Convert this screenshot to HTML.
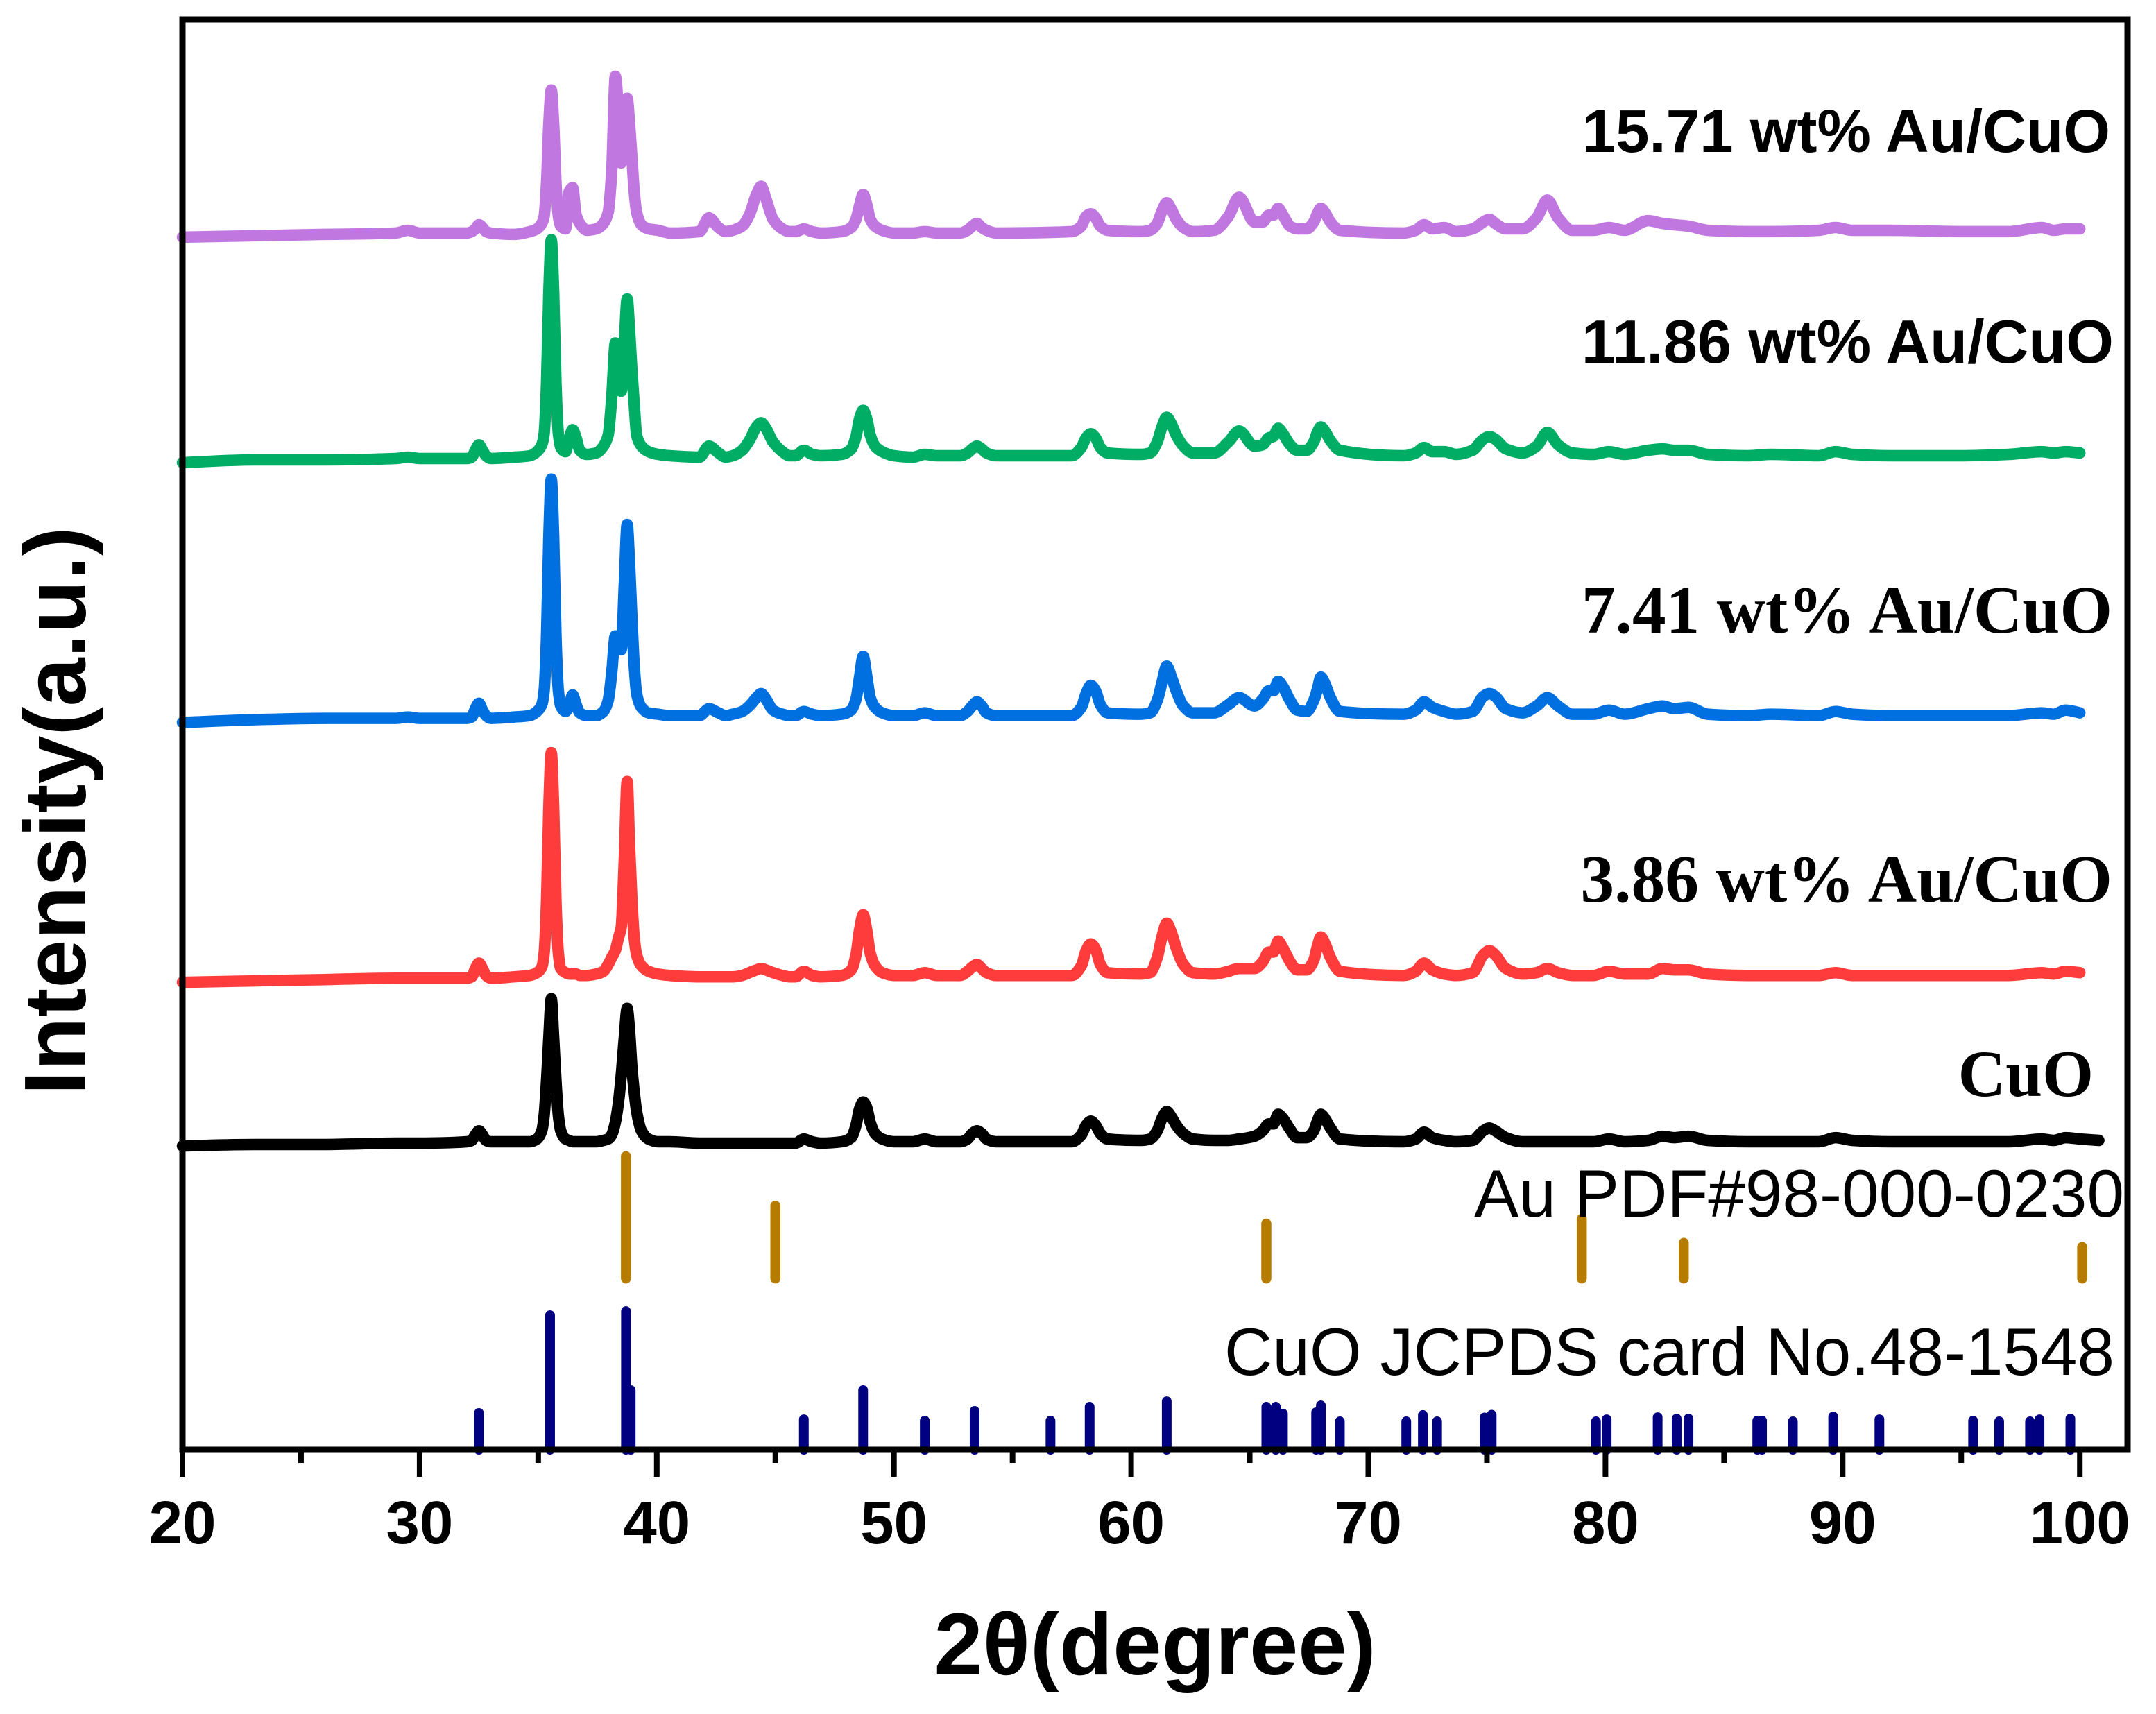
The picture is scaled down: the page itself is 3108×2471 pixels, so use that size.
<!DOCTYPE html>
<html lang="en">
<head>
<meta charset="utf-8">
<title>XRD patterns of Au/CuO</title>
<style>
html,body{margin:0;padding:0;background:#fff;}
svg{display:block;}
.sans{font-family:"Liberation Sans",sans-serif;}
.serif{font-family:"Liberation Serif",serif;}
</style>
</head>
<body>
<svg id="chart" xmlns="http://www.w3.org/2000/svg" width="3108" height="2471" viewBox="0 0 3108 2471">
  <rect x="0" y="0" width="3108" height="2471" fill="#ffffff"/>
  <g id="sticks"></g>
  <g id="curves"></g>
  <g id="axes"></g>

  <text class="sans" x="3042" y="219" text-anchor="end" font-size="87.1" font-weight="700">15.71 wt% Au/CuO</text>
  <text class="sans" x="3047" y="523" text-anchor="end" font-size="88.3" font-weight="700">11.86 wt% Au/CuO</text>
  <text class="serif" x="3045" y="912" text-anchor="end" font-size="97.3" font-weight="700">7.41 wt% Au/CuO</text>
  <text class="serif" x="3045" y="1300" text-anchor="end" font-size="97.5" font-weight="700">3.86 wt% Au/CuO</text>
  <text class="serif" x="3018" y="1580" text-anchor="end" font-size="95" font-weight="700">CuO</text>
  <text class="sans" x="3062" y="1754" text-anchor="end" font-size="96.3">Au PDF#98-000-0230</text>
  <text class="sans" x="3048" y="1982" text-anchor="end" font-size="96.2">CuO JCPDS card No.48-1548</text>

  <text class="sans" x="1665" y="2414" text-anchor="middle" font-size="126.4" font-weight="700">2θ(degree)</text>
  <text class="sans" transform="translate(123 1169) rotate(-90)" x="0" y="0" text-anchor="middle" font-size="126" font-weight="700">Intensity(a.u.)</text>
</svg>

<script>
// Shared 2-theta sampling (degrees)
const twoTheta = [
  20,23,26,29,29.5,30,32,32.2,32.35,32.5,32.65,32.8,33,34,
  34.65,34.95,35.15,35.25,35.35,35.45,35.55,35.65,35.75,35.85,35.95,36.15,36.3,36.45,36.6,36.75,37.05,
  37.45,37.75,37.95,38.1,38.25,38.38,38.5,38.63,38.75,38.85,38.95,39.05,39.15,39.35,39.65,40.05,40.55,
  41.8,42.2,42.6,42.9,43.2,43.6,43.9,44.2,44.4,44.6,44.9,45.3,45.6,
  45.85,46.2,46.55,46.9,47.8,48.2,48.4,48.55,48.7,48.85,49,49.2,49.5,50,
  50.8,51.3,51.8,52.8,53.1,53.3,53.5,53.7,53.9,54.3,
  57.5,57.9,58.1,58.3,58.5,58.7,59,60.4,
  60.8,61.1,61.3,61.5,61.7,61.9,62.2,62.6,
  63.5,64.1,64.55,65.2,65.55,65.8,66,66.2,66.4,66.7,67,67.4,67.7,67.85,68,68.2,68.4,68.8,
  71.5,72,72.35,72.7,73.2,73.7,74.4,74.85,75.1,75.35,75.8,76.5,77.1,77.55,78,78.6,
  79.5,80.15,80.8,81.8,82.4,82.9,83.5,84.3,86,87,89,89.7,90.4,92,95,97,98.4,98.9,99.4,100,100.8
];

// Offset-stacked intensity (a.u.)
const intensity1571 = [
  882,883,884,885,887,885,885,886,888,891,889,886,885,884,
  886,888,892,897,921,965,989,965,921,897,890,888,915,918,898,892,887,
  888,892,900,930,999,975,936,960,983,965,940,915,900,891,888,887,885,
  886,896,889,886,887,890,898,913,919,910,895,888,886,
  886,888,886,885,886,889,895,905,913,906,895,890,887,885,
  885,886,885,885,887,890,892,889,887,885,
  886,890,897,899,896,890,887,886,
  887,892,901,907,902,895,889,886,
  887,897,911,893,893,898,898,903,898,890,888,888,893,899,903,899,893,887,
  885,887,891,888,889,886,888,893,895,892,888,888,896,909,896,887,
  887,889,887,894,892,891,890,887,886,886,887,889,887,887,886,886,889,887,888,888
];
const intensity1186 = [
  718,720,720,721,722,721,721,722,727,731,727,723,721,722,
  723,726,731,739,775,843,880,843,775,739,729,726,735,742,736,727,724,
  725,730,738,765,805,795,770,805,837,815,785,760,738,730,726,724,723,
  722,730,725,722,723,727,734,744,747,743,733,726,723,
  723,727,724,723,724,728,737,750,756,750,738,730,726,723,
  722,724,723,723,725,728,730,728,725,723,
  723,729,736,739,736,729,725,724,
  725,733,744,751,746,738,730,725,
  725,733,741,730,731,736,737,743,739,731,727,727,733,740,744,740,734,727,
  723,725,729,726,726,724,727,735,737,735,728,725,730,740,731,725,
  724,726,724,727,728,727,727,724,723,724,723,726,724,723,723,724,726,725,726,725
];
const intensity741 = [
  529,531,532,532,533,532,532,533,539,543,538,534,532,533,
  534,537,542,552,591,665,706,665,591,552,541,537,541,549,542,536,534,
  534,537,545,565,592,590,582,630,673,645,605,570,550,540,536,535,534,
  534,539,536,534,535,537,541,547,550,546,538,535,534,
  534,537,535,534,535,538,546,562,577,563,547,540,536,534,
  534,536,534,534,537,541,544,541,536,534,
  534,540,550,556,552,542,536,535,
  536,545,558,570,562,552,541,536,
  536,542,547,541,546,552,552,559,555,545,538,537,545,553,562,556,547,537,
  535,538,544,540,537,535,537,548,550,548,539,536,541,547,541,535,
  535,538,535,539,541,539,540,535,534,535,534,537,535,534,534,534,536,535,538,536
];
const intensity386 = [
  340,341,342,343,343,343,343,344,350,354,350,345,343,344,
  345,347,351,361,398,468,507,468,398,361,350,347,346,346,346,345,345,
  346,348,353,358,363,372,380,430,486,440,400,372,360,352,348,346,345,
  344,344,344,344,344,345,347,349,350,349,347,345,344,
  344,348,345,344,345,349,360,378,389,378,361,352,347,345,
  345,347,345,345,348,351,353,350,347,345,
  345,352,363,368,364,353,347,346,
  347,358,373,383,376,365,353,347,
  346,348,350,350,355,362,362,370,365,355,349,349,356,366,373,367,358,348,
  345,348,354,349,346,345,347,360,363,360,350,346,347,350,347,345,
  345,348,346,346,350,349,349,346,345,345,345,347,345,345,345,345,347,346,348,347
];
const intensityCuO = [
  221,222,222,223,223,223,224,225,229,232,229,225,224,224,
  224,226,232,243,268,300,328,300,268,243,232,226,225,224,224,224,224,
  224,225,226,229,238,252,272,300,321,305,278,260,246,232,226,224,224,
  223,223,223,223,223,223,223,223,223,223,223,223,223,
  223,226,224,223,224,227,236,248,253,249,238,230,226,224,
  224,226,224,224,226,230,232,230,226,224,
  224,229,236,239,236,230,226,225,
  226,232,241,246,242,236,230,226,
  225,225,226,228,232,237,237,244,241,233,227,227,232,239,244,240,234,226,
  224,226,231,227,225,224,225,232,234,232,227,224,224,224,224,224,
  224,226,224,225,228,227,228,225,224,224,224,227,225,224,224,224,226,225,227,226,225
];

// Reference stick patterns
const auPositions = [38.7,45,65.7,79,83.3,100.1];
const auTops = [217,181,168,171.5,154,151];
const auBase = 121;
const cuoPositions = [32.5,35.5,38.7,38.9,46.2,48.7,51.3,53.4,56.6,58.25,61.5,65.7,66.1,66.4,67.8,68,68.8,71.6,72.3,72.9,74.9,75.2,79.6,80.05,82.2,83,83.5,86.4,86.6,87.9,89.6,91.55,95.5,96.6,97.9,98.3,99.6];
const cuoHeights = [30.3,101.4,104.4,46.9,25.7,46.9,24.7,31.8,24.7,34.8,38.8,34.8,34.8,29.8,30.8,35.8,24.2,24.2,28.8,24.2,27,29,24.2,25.7,27.2,26.2,26.2,24.7,24.7,24.2,27.7,25.7,24.7,24.2,24.2,25.7,26.2];

// Axis ticks
const majorTicks = [20,30,40,50,60,70,80,90,100];
const minorTicks = [25,35,45,55,65,75,85,95];

const NS = 'http://www.w3.org/2000/svg';
function xScale(t){ return 263 + (t - 20) * 34.19; }
function yScale(v){ return 2090 - v * 1.982; }
function mk(tag, attrs, parent){
  const el = document.createElementNS(NS, tag);
  for (const k in attrs) el.setAttribute(k, attrs[k]);
  parent.appendChild(el);
  return el;
}

// Monotone cubic path through the sampled points
function monotonePath(xs, ys){
  const n = xs.length;
  const d = [];
  for (let i = 0; i < n - 1; i++) d.push((ys[i+1] - ys[i]) / (xs[i+1] - xs[i]));
  const m = [d[0]];
  for (let i = 1; i < n - 1; i++) {
    if (d[i-1] * d[i] <= 0) { m.push(0); continue; }
    const h0 = xs[i] - xs[i-1], h1 = xs[i+1] - xs[i];
    const w1 = 2 * h1 + h0, w2 = h1 + 2 * h0;
    m.push((w1 + w2) / (w1 / d[i-1] + w2 / d[i]));
  }
  m.push(d[n-2]);
  let path = 'M' + xs[0].toFixed(1) + ' ' + ys[0].toFixed(1);
  for (let i = 0; i < n - 1; i++) {
    const h = (xs[i+1] - xs[i]) / 3;
    path += 'C' + (xs[i] + h).toFixed(1) + ' ' + (ys[i] + m[i] * h).toFixed(1) + ' ' +
      (xs[i+1] - h).toFixed(1) + ' ' + (ys[i+1] - m[i+1] * h).toFixed(1) + ' ' +
      xs[i+1].toFixed(1) + ' ' + ys[i+1].toFixed(1);
  }
  return path;
}

// Sticks
const sticksG = document.getElementById('sticks');
auPositions.forEach(function(p, i){
  const el = mk('line', {x1:xScale(p), x2:xScale(p), y1:yScale(auBase)-7, y2:yScale(auTops[i])+7, stroke:'#b57c00', 'stroke-width':14.5, 'stroke-linecap':'round'}, sticksG);
  
  
});
cuoPositions.forEach(function(p, i){
  const el = mk('line', {x1:xScale(p), x2:xScale(p), y1:yScale(0), y2:yScale(cuoHeights[i])+7, stroke:'#000080', 'stroke-width':14, 'stroke-linecap':'round'}, sticksG);
  
  
});

// Curves
const curvesG = document.getElementById('curves');
function drawCurve(values, color, name){
  const xs = values.map(function(v, i){ return xScale(twoTheta[i]); });
  const ys = values.map(function(v){ return yScale(v); });
  const el = mk('path', {d:monotonePath(xs, ys), fill:'none', stroke:color, 'stroke-width':16.5, 'stroke-linejoin':'round', 'stroke-linecap':'round'}, curvesG);
  
  
}
drawCurve(intensityCuO, '#000000', 'curve-cuo');
drawCurve(intensity386, '#ff3c3c', 'curve-3-86-wt');
drawCurve(intensity741, '#0070e0', 'curve-7-41-wt');
drawCurve(intensity1186, '#00ad65', 'curve-11-86-wt');
drawCurve(intensity1571, '#c077e0', 'curve-15-71-wt');

// Axes
const axesG = document.getElementById('axes');
const frame = mk('rect', {x:263, y:28, width:2804, height:2062, fill:'none', stroke:'#000', 'stroke-width':9}, axesG);


majorTicks.forEach(function(t){
  const x = xScale(t);
  const tick = mk('line', {x1:x, x2:x, y1:2090, y2:2129, stroke:'#000', 'stroke-width':8}, axesG);
  
  
  const label = mk('text', {x:x, y:2225, 'text-anchor':'middle', 'font-size':87, 'font-weight':700, 'font-family':'"Liberation Sans",sans-serif'}, axesG);
  label.textContent = String(t);
  
  
});
minorTicks.forEach(function(t){
  const x = xScale(t);
  const tick = mk('line', {x1:x, x2:x, y1:2090, y2:2109, stroke:'#000', 'stroke-width':8}, axesG);
  
  
});
</script>
</body>
</html>
